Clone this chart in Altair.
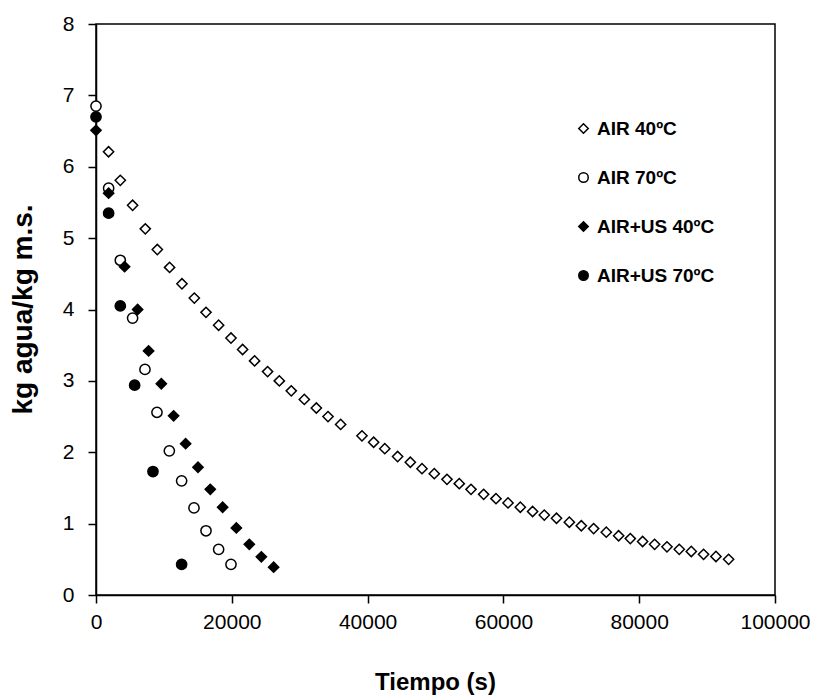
import altair as alt
import pandas as pd

series_names = ["AIR 40ºC", "AIR 70ºC", "AIR+US 40ºC", "AIR+US 70ºC"]

air40_t = [1850, 3580, 5390, 7260, 9030, 10840, 12660, 14480, 16200, 18060,
           19880, 21590, 23360, 25270, 27000, 28760, 30680, 32450, 34170, 36030,
           39170, 40890, 42530, 44420, 46290, 48010, 49820, 51690, 53500, 55230,
           57090, 58910, 60680, 62490, 64300, 66020, 67820, 69710, 71470, 73290,
           75150, 76970, 78690, 80500, 82270, 84090, 85900, 87670, 89480, 91300,
           93170]
air40_y = [6.21, 5.81, 5.46, 5.13, 4.84, 4.59, 4.36, 4.16, 3.96, 3.78,
           3.60, 3.44, 3.28, 3.13, 3.00, 2.86, 2.74, 2.62, 2.50, 2.39,
           2.23, 2.14, 2.05, 1.94, 1.86, 1.77, 1.70, 1.62, 1.56, 1.48,
           1.41, 1.35, 1.29, 1.23, 1.17, 1.12, 1.075, 1.02, 0.97, 0.93,
           0.88, 0.83, 0.79, 0.75, 0.71, 0.675, 0.64, 0.61, 0.57, 0.54,
           0.50]

air70_t = [0, 1860, 3580, 5390, 7210, 8980, 10800, 12610, 14430, 16200, 18060, 19880]
air70_y = [6.85, 5.70, 4.69, 3.88, 3.16, 2.56, 2.02, 1.60, 1.22, 0.90, 0.64, 0.43]

us40_t = [0, 1860, 4210, 6130, 7750, 9620, 11430, 13200, 15020, 16830, 18650,
          20670, 22580, 24350, 26160]
us40_y = [6.51, 5.63, 4.60, 4.00, 3.42, 2.96, 2.51, 2.12, 1.79, 1.48, 1.23,
          0.94, 0.71, 0.535, 0.39]

us70_t = [0, 1860, 3580, 5690, 8390, 12610]
us70_y = [6.70, 5.35, 4.05, 2.94, 1.73, 0.43]

x_ticks = [0, 20000, 40000, 60000, 80000, 100000]
y_ticks = [0, 1, 2, 3, 4, 5, 6, 7, 8]

rows = []
for name, ts, ys in zip(series_names,
                        [air40_t, air70_t, us40_t, us70_t],
                        [air40_y, air70_y, us40_y, us70_y]):
    for t, v in zip(ts, ys):
        rows.append({"serie": name, "t": t, "w": v})
df = pd.DataFrame(rows)

FONT = "Liberation Sans"


def leg():
    return alt.Legend(title=" ", orient="top-right")


chart = alt.Chart(df).mark_point(strokeWidth=1.5, opacity=1, size=105).encode(
    x=alt.X("t:Q", scale=alt.Scale(domain=[0, 100000], nice=False),
            axis=alt.Axis(values=x_ticks, format="d", title="Tiempo (s)",
                          labelFlush=False, labelPadding=8,
                          titleX=339, titleY=87, titleBaseline="middle")),
    y=alt.Y("w:Q", scale=alt.Scale(domain=[0, 8], nice=False),
            axis=alt.Axis(values=y_ticks, title="kg agua/kg m.s.",
                          labelFlush=False, labelPadding=14, titleFontSize=28,
                          titleX=-73, titleY=285, titleBaseline="middle")),
    shape=alt.Shape("serie:N",
                    scale=alt.Scale(domain=series_names,
                                    range=["diamond", "circle", "diamond", "circle"]),
                    legend=leg()),
    fill=alt.Fill("serie:N",
                  scale=alt.Scale(domain=series_names,
                                  range=["white", "white", "black", "black"]),
                  legend=leg()),
    stroke=alt.Stroke("serie:N",
                      scale=alt.Scale(domain=series_names,
                                      range=["black", "black", "black", "black"]),
                      legend=leg()),
).properties(
    width=679, height=571,
    autosize=alt.AutoSizeParams(type="none"),
    padding={"left": 88, "top": 16, "right": 37, "bottom": 103},
).configure(
    background="white"
).configure_view(
    stroke="black", strokeWidth=1.5
).configure_axis(
    grid=False, domainColor="black", domainWidth=1.5, tickColor="black", tickWidth=1.5,
    tickSize=8, labelFont=FONT, labelFontSize=21, labelColor="black",
    titleFont=FONT, titleFontSize=24, titleFontWeight="bold", titleColor="black"
).configure_legend(
    labelFont=FONT, labelFontSize=19, labelFontWeight="bold", labelColor="black",
    symbolSize=90, symbolStrokeWidth=1.5,
    rowPadding=29, labelOffset=4, labelLimit=300, padding=44, offset=16,
    titleFontSize=14, titlePadding=21
)

chart.save("out.html", embed_options={"renderer": "svg", "actions": False})
